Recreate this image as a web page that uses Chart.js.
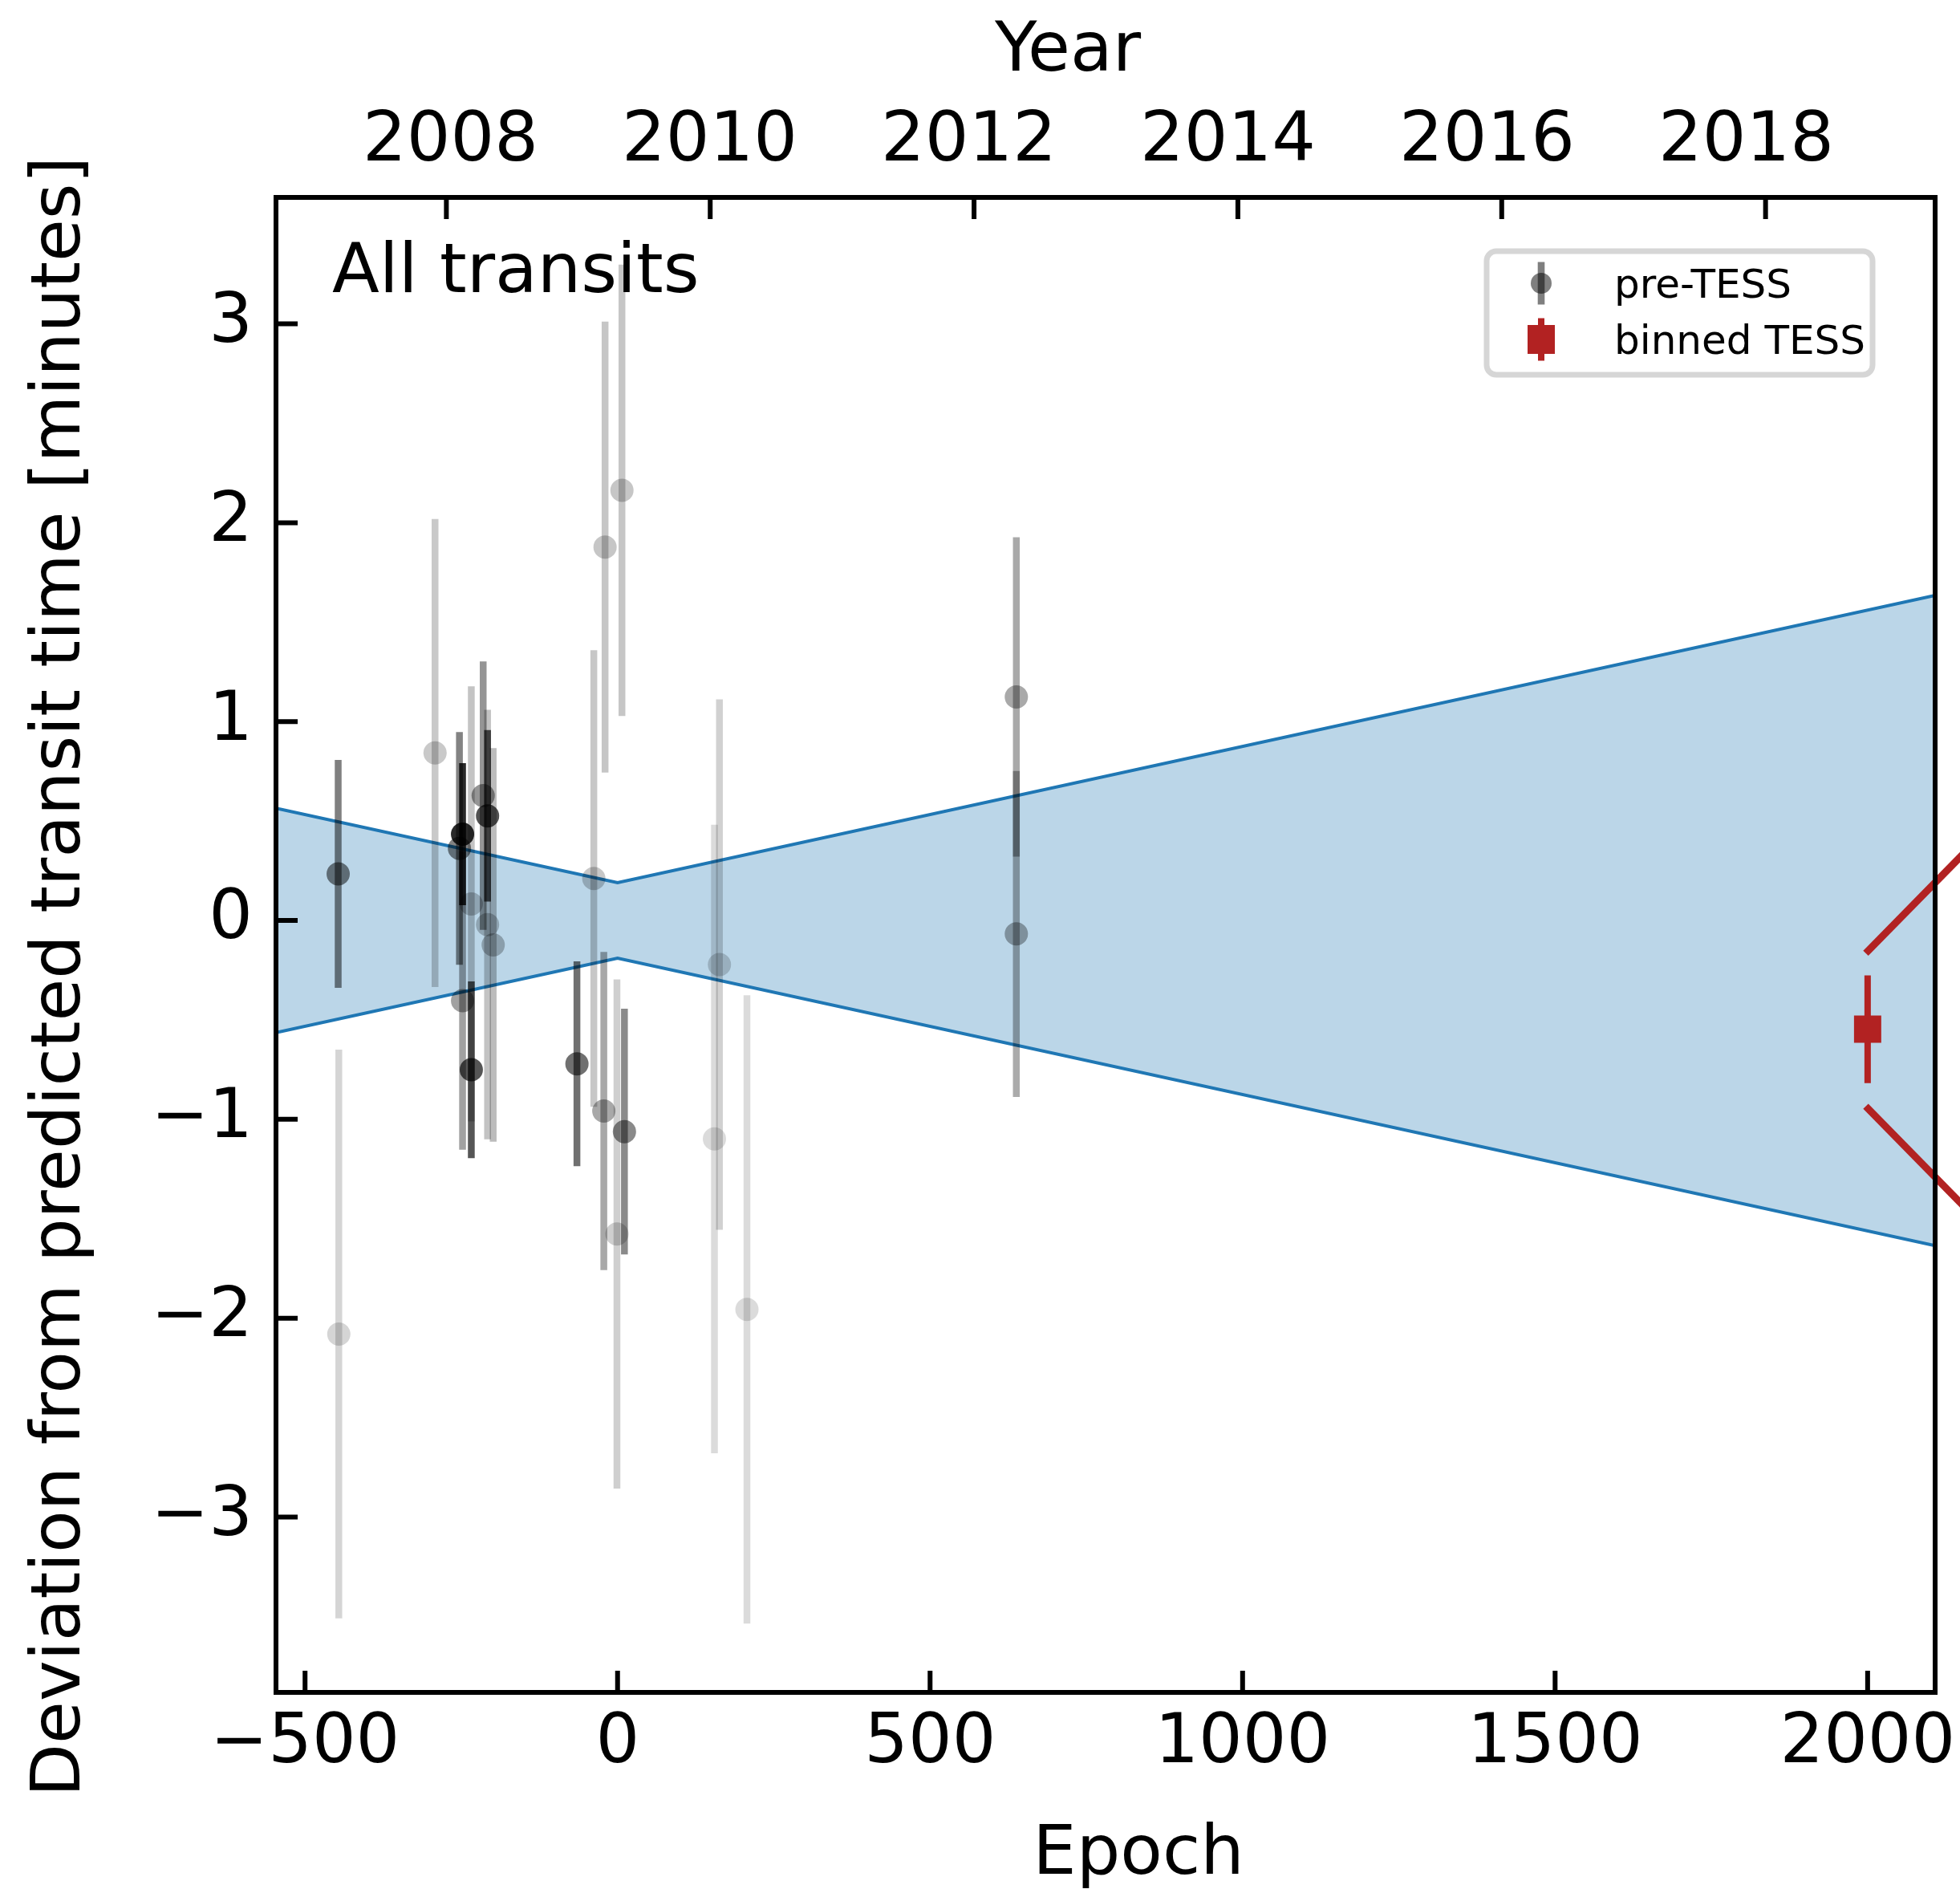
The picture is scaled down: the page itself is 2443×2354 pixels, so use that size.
<!DOCTYPE html>
<html>
<head>
<meta charset="utf-8">
<title>Transit timing residuals</title>
<script src="https://cdn.jsdelivr.net/npm/chart.js@4.4.1/dist/chart.umd.min.js"></script>
<style>
  html, body { margin: 0; padding: 0; background: #fff; }
  #wrap { width: 2443px; height: 2354px; }
</style>
</head>
<body>
<div id="wrap"><canvas id="ttvChart" width="2443" height="2354"></canvas></div>
<script>
// pre-TESS mid-transit times: O-C residuals in minutes with 1-sigma errors
const preEpochs    = [-447, -446, -292, -253, -248, -248, -234, -234, -215, -208, -208, -199, -65, -38, -22, -20, -1, 7, 11, 155, 163, 207, 638, 638];
const preResiduals = [0.234, -2.08, 0.842, 0.362, 0.434, -0.403, 0.083, -0.751, 0.628, 0.526, -0.021, -0.123, -0.721, 0.211, -0.958, 1.878, -1.577, 2.163, -1.062, -1.099, -0.222, -1.956, 1.124, -0.068];
const preErrors    = [0.573, 1.43, 1.177, 0.585, 0.357, 0.75, 1.094, 0.444, 0.675, 0.431, 1.08, 0.99, 0.515, 1.148, 0.80, 1.134, 1.28, 1.135, 0.618, 1.58, 1.334, 1.58, 0.803, 0.82];

// TESS transits, binned into one point
const tessEpochs    = [2000];
const tessResiduals = [-0.547];
const tessErrors    = [0.271];

// 1-sigma envelope of the linear ephemeris
const bandEpochs = [-546.5, 0, 2108];
const bandUpper  = [0.564, 0.19, 1.635];
const bandLower  = [-0.564, -0.19, -1.635];

// guide lines leading from the TESS bin out to the right
const connectorEpochs = [1997, 2200];
const connectorUpper  = [-0.165, 0.485];
const connectorLower  = [-0.935, -1.585];

const epochTicks    = [-500, 0, 500, 1000, 1500, 2000];
const yearTicks     = [2008, 2010, 2012, 2014, 2016, 2018];
const residualTicks = [-3, -2, -1, 0, 1, 2, 3];

const epochMin = -546.5, epochMax = 2108;
const residualMin = -3.882, residualMax = 3.636;

// epoch <-> calendar year for the top axis
const epochOf2008 = -273.9;
const epochsPerYear = 211.06;
const yearMin = 2008 + (epochMin - epochOf2008) / epochsPerYear;
const yearMax = 2008 + (epochMax - epochOf2008) / epochsPerYear;
// the year labels sit on a slightly narrower span than their tick marks
const yearLabelMin = 2006.653, yearLabelMax = 2019.458;

const FONT = 'DejaVu Sans';
const tickFont = { family: FONT, size: 86 };
const BLUE = '#1f77b4';
const RED = '#b22222';

function minusLabel(v) {
  return v < 0 ? '\u2212' + Math.abs(v) : String(v);
}

// more precise timings are drawn more opaque
function weightAlpha(err) {
  return Math.min(0.85, Math.max(0.1, 0.32 / err - 0.06));
}

// keep the plot frame fixed: no extra room for overhanging tick labels
function fixHeight(h) {
  return s => { s.height = h; s.paddingLeft = 0; s.paddingRight = 0; };
}

const datasets = [];

datasets.push({
  data: bandEpochs.map((x, i) => ({ x, y: bandUpper[i] })),
  borderColor: BLUE, borderWidth: 4, pointRadius: 0,
  fill: '+1', backgroundColor: 'rgba(31,119,180,0.3)', order: 101
});
datasets.push({
  data: bandEpochs.map((x, i) => ({ x, y: bandLower[i] })),
  borderColor: BLUE, borderWidth: 4, pointRadius: 0, fill: false, order: 100
});

preEpochs.forEach((e, i) => {
  const y = preResiduals[i], err = preErrors[i];
  const c = 'rgba(0,0,0,' + weightAlpha(err).toFixed(3) + ')';
  datasets.push({
    data: [{ x: e, y: y - err }, { x: e, y: y }, { x: e, y: y + err }],
    borderColor: c, borderWidth: 8.5,
    pointRadius: [0, 14.5, 0], pointBackgroundColor: c, pointBorderWidth: 0,
    fill: false, order: 60 - i
  });
});

datasets.push({
  data: connectorEpochs.map((x, i) => ({ x, y: connectorUpper[i] })),
  borderColor: RED, borderWidth: 9, pointRadius: 0, fill: false, clip: false, order: 2
});
datasets.push({
  data: connectorEpochs.map((x, i) => ({ x, y: connectorLower[i] })),
  borderColor: RED, borderWidth: 9, pointRadius: 0, fill: false, clip: false, order: 2
});

tessEpochs.forEach((e, i) => {
  const y = tessResiduals[i], err = tessErrors[i];
  datasets.push({
    data: [{ x: e, y: y - err }, { x: e, y: y }, { x: e, y: y + err }],
    borderColor: RED, borderWidth: 8,
    pointStyle: 'rect', pointRadius: [0, 24, 0], pointBackgroundColor: RED, pointBorderWidth: 0,
    fill: false, order: 1
  });
});

// spines, inward ticks, axis titles, panel label and legend
const decorations = {
  id: 'decorations',
  afterDraw(chart) {
    const { ctx, chartArea: a, scales } = chart;
    ctx.save();

    ctx.strokeStyle = '#000';
    ctx.lineWidth = 6;
    ctx.beginPath();
    epochTicks.forEach(v => {
      const x = scales.x.getPixelForValue(v);
      ctx.moveTo(x, a.bottom); ctx.lineTo(x, a.bottom - 27);
    });
    yearTicks.forEach(v => {
      const x = scales.year.getPixelForValue(v);
      ctx.moveTo(x, a.top); ctx.lineTo(x, a.top + 27);
    });
    residualTicks.forEach(v => {
      const y = scales.y.getPixelForValue(v);
      ctx.moveTo(a.left, y); ctx.lineTo(a.left + 27, y);
    });
    ctx.stroke();
    ctx.strokeRect(a.left, a.top, a.right - a.left, a.bottom - a.top);

    ctx.fillStyle = '#000';
    ctx.font = '86px "' + FONT + '"';
    ctx.textBaseline = 'alphabetic';
    ctx.textAlign = 'center';
    ctx.fillText('Epoch', 1419, 2335);
    ctx.fillText('Year', 1331, 88);
    ctx.save();
    ctx.translate(99, 1217);
    ctx.rotate(-Math.PI / 2);
    ctx.fillText('Deviation from predicted transit time [minutes]', 0, 0);
    ctx.restore();

    ctx.textAlign = 'left';
    ctx.fillText('All transits', a.left + 70, a.top + 118);

    // legend
    const lx = a.right - 559, ly = a.top + 67, lw = 481, lh = 154;
    ctx.beginPath();
    ctx.roundRect(lx, ly, lw, lh, 12);
    ctx.fillStyle = 'rgba(255,255,255,0.8)';
    ctx.fill();
    ctx.lineWidth = 7;
    ctx.strokeStyle = '#d6d6d6';
    ctx.stroke();

    const mx = lx + 68;
    const row1 = ly + 40, row2 = ly + 110;
    ctx.fillStyle = 'rgba(0,0,0,0.5)';
    ctx.fillRect(mx - 4.3, row1 - 26.5, 8.6, 53);
    ctx.beginPath();
    ctx.arc(mx, row1, 13, 0, Math.PI * 2);
    ctx.fill();
    ctx.fillStyle = RED;
    ctx.fillRect(mx - 4, row2 - 26.5, 8, 53);
    ctx.fillRect(mx - 17, row2 - 18, 34, 36);

    ctx.fillStyle = '#000';
    ctx.font = '50px "' + FONT + '"';
    ctx.fillText('pre-TESS', lx + 159, row1 + 18);
    ctx.fillText('binned TESS', lx + 159, row2 + 18);
    ctx.restore();
  }
};

new Chart(document.getElementById('ttvChart'), {
  type: 'line',
  data: { datasets },
  options: {
    responsive: false,
    devicePixelRatio: 1,
    animation: false,
    events: [],
    layout: { padding: { left: 0, right: 31, top: 0, bottom: 0 } },
    elements: { line: { tension: 0, borderCapStyle: 'butt' } },
    plugins: { legend: { display: false }, tooltip: { enabled: false } },
    scales: {
      x: {
        type: 'linear', position: 'bottom', min: epochMin, max: epochMax,
        afterBuildTicks: s => { s.ticks = epochTicks.map(v => ({ value: v })); },
        grid: { display: false, drawTicks: false },
        border: { display: false },
        ticks: { font: tickFont, color: '#000', padding: 13, maxRotation: 0, autoSkip: false, callback: minusLabel },
        afterFit: fixHeight(245)
      },
      // calendar years: tick marks
      year: {
        type: 'linear', position: 'top', display: false, min: yearMin, max: yearMax
      },
      // calendar years: labels
      yearLabel: {
        type: 'linear', position: 'top', min: yearLabelMin, max: yearLabelMax,
        afterBuildTicks: s => { s.ticks = yearTicks.map(v => ({ value: v })); },
        grid: { display: false, drawTicks: false },
        border: { display: false },
        ticks: { font: tickFont, color: '#000', padding: 17, maxRotation: 0, autoSkip: false, callback: v => String(v) },
        afterFit: fixHeight(246)
      },
      y: {
        type: 'linear', position: 'left', min: residualMin, max: residualMax,
        afterBuildTicks: s => { s.ticks = residualTicks.map(v => ({ value: v })); },
        grid: { display: false, drawTicks: false },
        border: { display: false },
        ticks: { font: tickFont, color: '#000', padding: 29, autoSkip: false, callback: minusLabel },
        afterFit: s => { s.width = 344; s.paddingTop = 0; s.paddingBottom = 0; }
      }
    }
  },
  plugins: [decorations]
});
</script>
</body>
</html>
